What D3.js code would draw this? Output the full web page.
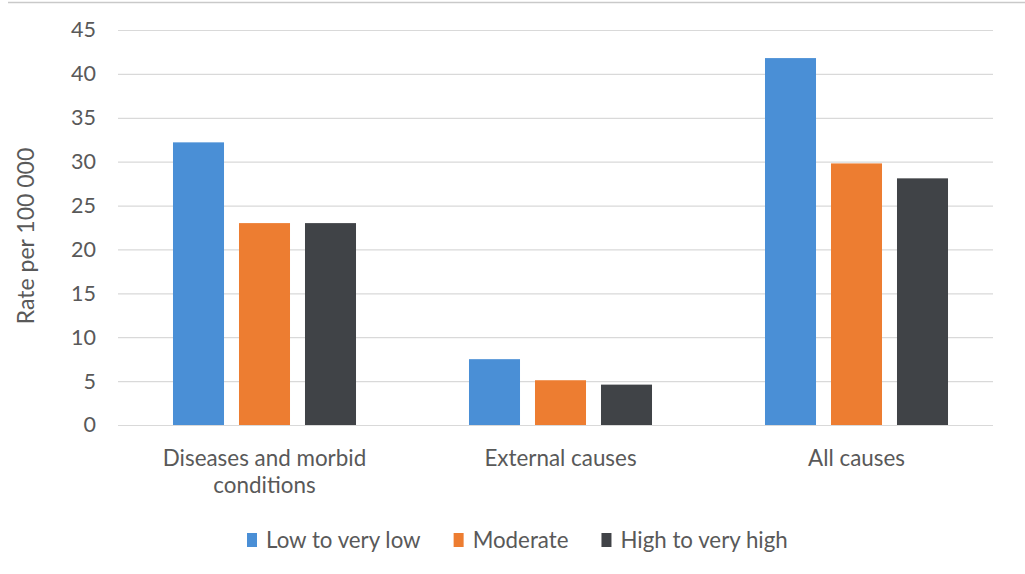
<!DOCTYPE html>
<html>
<head>
<meta charset="utf-8">
<script src="https://cdn.jsdelivr.net/npm/d3@7"></script>
<style>
  html, body { margin: 0; padding: 0; background: #fff; }
  svg { display: block; }
  text { font-family: Lato, "Open Sans", sans-serif; fill: #595959; }
</style>
</head>
<body>
<svg id="chart" width="1025" height="574"></svg>
<script>
// Mortality rate per 100 000 by cause group and level
const categories = ["Diseases and morbid conditions", "External causes", "All causes"];
const categoryLines = [["Diseases and morbid", "conditions"], ["External causes"], ["All causes"]];
const seriesNames = ["Low to very low", "Moderate", "High to very high"];
const lowToVeryLow = [32.2, 7.5, 41.8];
const moderate = [23.0, 5.1, 29.8];
const highToVeryHigh = [23.0, 4.6, 28.1];
const yTicks = [0, 5, 10, 15, 20, 25, 30, 35, 40, 45];
const colors = ["#4a8fd6", "#ed7d31", "#404347"];

const seriesValues = [lowToVeryLow, moderate, highToVeryHigh];
const rows = categories.map((c, i) => ({
  category: c,
  values: seriesNames.map((s, j) => ({ series: s, value: seriesValues[j][i] }))
}));

const svg = d3.select("#chart");

// frame line along the top
svg.append("line")
  .attr("x1", 8).attr("x2", 1025).attr("y1", 2.5).attr("y2", 2.5)
  .attr("stroke", "#c9c9c9").attr("stroke-width", 1.5);

const plotLeft = 118, plotRight = 993;
const y = d3.scaleLinear().domain([0, 45]).range([425, 30]);

const x0 = d3.scaleBand().domain(categories).range([116.5, 1004.5]).paddingInner(0).paddingOuter(0);
const x1 = d3.scaleBand().domain(seriesNames).range([0, x0.bandwidth()])
  .paddingInner(0.227).paddingOuter(0.856);

// horizontal gridlines + tick labels
const yAxis = d3.axisLeft(y).tickValues(yTicks).tickSize(-(plotRight - plotLeft)).tickPadding(22);
const gy = svg.append("g").attr("transform", `translate(${plotLeft},0)`).call(yAxis);
gy.select(".domain").remove();
gy.selectAll(".tick line").attr("stroke", "#d9d9d9").attr("stroke-width", 1.2);
gy.selectAll(".tick text")
  .attr("font-family", "Lato, 'Open Sans', sans-serif")
  .attr("font-size", 21.5).attr("fill", "#595959");

// bars
const groups = svg.append("g").selectAll("g").data(rows).join("g")
  .attr("transform", d => `translate(${x0(d.category)},0)`);
groups.selectAll("rect").data(d => d.values).join("rect")
  .attr("x", d => x1(d.series))
  .attr("width", x1.bandwidth())
  .attr("y", d => y(d.value))
  .attr("height", d => y(0) - y(d.value))
  .attr("fill", (d, i) => colors[i]);

// category labels
const catLabels = svg.append("g").selectAll("text").data(categories).join("text")
  .attr("x", d => x0(d) + x0.bandwidth() / 2)
  .attr("y", 466)
  .attr("text-anchor", "middle")
  .attr("font-size", 22.4);
catLabels.each(function (d, i) {
  d3.select(this).selectAll("tspan").data(categoryLines[i]).join("tspan")
    .attr("x", x0(d) + x0.bandwidth() / 2)
    .attr("dy", (t, k) => k === 0 ? 0 : 27)
    .text(t => t);
});

// y-axis title
svg.append("text")
  .attr("transform", "translate(34,236) rotate(-90)")
  .attr("text-anchor", "middle")
  .attr("font-size", 23)
  .text("Rate per 100 000");

// legend
const legend = svg.append("g");
let lx = 247;
seriesNames.forEach((name, i) => {
  const item = legend.append("g").attr("transform", `translate(${lx},0)`);
  item.append("rect").attr("x", 0).attr("y", 533).attr("width", 10).attr("height", 14).attr("fill", colors[i]);
  const t = item.append("text").attr("x", 19).attr("y", 548).attr("font-size", 22.3).text(name);
  lx += 19 + t.node().getComputedTextLength() + 33;
});
</script>
</body>
</html>
